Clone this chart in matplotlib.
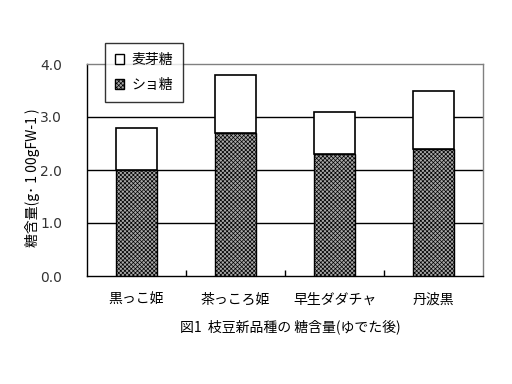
import matplotlib
matplotlib.use("Agg")
import matplotlib.pyplot as plt
from matplotlib.patches import Patch
import numpy as np

plt.rcParams['font.family'] = ['Noto Sans CJK JP', 'DejaVu Sans']
plt.rcParams['hatch.linewidth'] = 0.5

categories = ['黒っこ姫', '茶っころ姫', '早生ダダチャ', '丹波黒']
sucrose = [2.0, 2.7, 2.3, 2.4]
maltose = [0.8, 1.1, 0.8, 1.1]
yticks = [0.0, 1.0, 2.0, 3.0, 4.0]

fig = plt.figure(figsize=(5.12, 3.84), dpi=100)
ax = fig.add_axes([87/512, 1-276/384, 396/512, 212/384])

x = np.arange(len(categories))
w = 0.41
HATCH = 'xxxxxxxx'
FACE = '#a8a8a8'
ax.bar(x, sucrose, w, facecolor=FACE, edgecolor='black', hatch=HATCH, linewidth=1.0, zorder=3)
ax.bar(x, maltose, w, bottom=sucrose, facecolor='white', edgecolor='black', linewidth=1.2, zorder=3)

ax.set_xlim(-0.5, len(categories)-0.5)
ax.set_ylim(0, 4.0)
ax.set_yticks(yticks)
ax.set_yticklabels([f'{v:.1f}' for v in yticks], fontsize=10, family=['DejaVu Sans'], color='#333333')
for v in yticks[1:-1]:
    ax.axhline(v, color='black', linewidth=1.0, zorder=1)
ax.tick_params(axis='y', length=0, pad=18)

ax.set_xticks(x)
ax.set_xticklabels(categories, fontsize=10)
ax.tick_params(axis='x', length=0, pad=12)
ax.set_xticks(np.arange(0.5, len(categories)-0.5, 1.0), minor=True)
ax.tick_params(axis='x', which='minor', direction='in', length=4, width=1)

for s in ['left', 'bottom']:
    ax.spines[s].set_color('black')
    ax.spines[s].set_linewidth(1.0)
for s in ['top', 'right']:
    ax.spines[s].set_color('#808080')
    ax.spines[s].set_linewidth(1.0)

fig.text(33/512, 1-178/384, '糖含量(g･ 1 00gFW-1 )', rotation=90, ha='center', va='center', fontsize=10)
fig.text(290/512, 1-327/384, '図1  枝豆新品種の 糖含量(ゆでた後)', ha='center', va='center', fontsize=10)

handles = [Patch(facecolor='white', edgecolor='black', linewidth=1.0),
           Patch(facecolor=FACE, edgecolor='black', hatch=HATCH, linewidth=1.0)]
leg = fig.legend(handles, ['麦芽糖', 'ショ糖'], loc='upper left',
                 bbox_to_anchor=(105/512, 1-43/384), fontsize=10, frameon=True,
                 fancybox=False, handlelength=0.7, handleheight=0.7, handletextpad=0.5,
                 labelspacing=0.8, borderpad=0.7, borderaxespad=0)
leg.get_frame().set_edgecolor('black')
leg.get_frame().set_linewidth(1.0)

fig.savefig('out.png', dpi=100)
